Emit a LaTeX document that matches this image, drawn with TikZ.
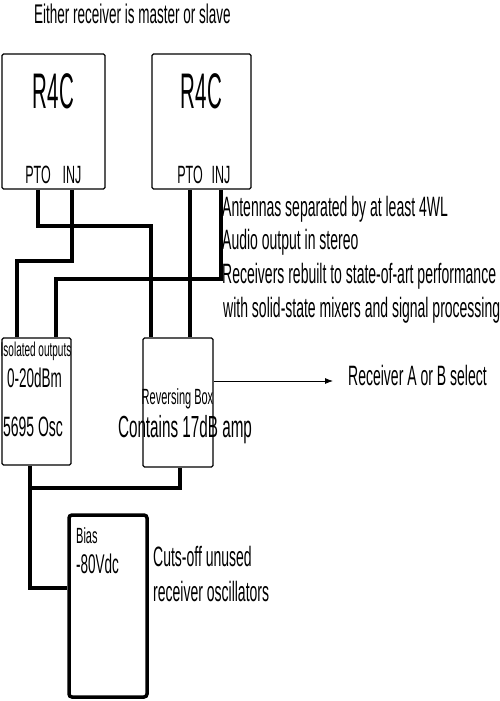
\documentclass[tikz,border=0pt]{standalone}
\usepackage{fontspec}
\setmainfont[FakeStretch=0.5]{Liberation Sans}
\newfontfamily\tallfont[FakeStretch=0.41]{Liberation Sans}
\usetikzlibrary{arrows.meta}
\newcommand{\fs}[1]{\fontsize{#1}{#1}\selectfont}
\begin{document}
\begin{tikzpicture}[x=1pt,y=-1pt,
  unit/.style={draw,line width=1.2pt,rounded corners=1.5pt,inner sep=0pt},
  wire/.style={line width=4pt},
  txt/.style={inner sep=0pt,anchor=base},
  note/.style={inner sep=0pt,anchor=base west,font=\fs{28}}]
\useasboundingbox (0,0) rectangle (500,701);
\node[txt,font=\fs{27}] (title) at (132.5,24) {Either receiver is master or slave};
% receivers
\node[unit,minimum width=103pt,minimum height=135pt] (rx1) at (53.5,121.5) {};
\node[unit,minimum width=99pt,minimum height=135pt] (rx2) at (201.5,121.5) {};
\node[txt,font=\tallfont\fs{50}] (name1) at (53.5,108) {R4C};
\node[txt,font=\tallfont\fs{50}] (name2) at (201.5,108) {R4C};
\node[txt,font=\fs{25}] (pto1) at (38,183) {PTO};
\node[txt,font=\fs{25}] (inj1) at (72,183) {INJ};
\node[txt,font=\fs{25}] (pto2) at (190,183) {PTO};
\node[txt,font=\fs{25}] (inj2) at (221,183) {INJ};
% oscillator and reversing box
\node[unit,minimum width=69pt,minimum height=127pt] (iso) at (36.5,401.5) {};
\node[txt,font=\fs{20}] (isolbl) at (36,356) {Isolated outputs};
\node[txt,font=\fs{27}] (dbm) at (34.5,387) {0-20dBm};
\node[txt,font=\fs{28}] (osc) at (33,436) {5695 Osc};
\node[unit,minimum width=70pt,minimum height=129pt] (rev) at (178,402.5) {};
\node[txt,font=\fs{22}] (revlbl) at (177.5,404) {Reversing Box};
\node[txt,font=\fs{30.5}] (amp) at (185,437) {Contains 17dB amp};
% bias supply
\node[unit,line width=3.5pt,rounded corners=3pt,minimum width=78pt,minimum height=182pt] (bias) at (108,606) {};
\node[inner sep=0pt,anchor=base west,font=\fs{22}] (biaslbl) at (76,543) {Bias};
\node[inner sep=0pt,anchor=base west,font=\fs{27}] (volt) at (76,573) {-80Vdc};
% notes
\node[note] (n1) at (222,216) {Antennas separated by at least 4WL};
\node[note] (n2) at (222,249) {Audio output in stereo};
\node[note] (n3) at (222,283) {Receivers rebuilt to state-of-art performance};
\node[note] (n4) at (223,317) {with solid-state mixers and signal processing};
\node[note] (sel) at (348,385) {Receiver A or B select};
\node[note] (cut1) at (153,566) {Cuts-off unused};
\node[note] (cut2) at (153,601) {receiver oscillators};
\coordinate (selend) at (333,381);
% wiring
\draw[wire] (pto1 |- rx1.south) -- ++(0,36) -| ([xshift=9pt]rev.north west);
\draw[wire] (inj1 |- rx1.south) -- ++(0,71) -| ([xshift=16pt]iso.north west);
\draw[wire] (pto2 |- rx2.south) -- (pto2 |- rev.north);
\draw[wire] (inj2 |- rx2.south) -- ++(0,89) -| ([xshift=55pt]iso.north west);
\draw[wire] ([xshift=29pt]iso.south west) |- ([yshift=18pt]bias.west);
\draw[wire] ([xshift=29pt]iso.south west) ++(0,22) -| ([xshift=38pt]rev.south west);
\draw[-{Latex[length=8pt,width=6pt]},line width=0.8pt] (rev.east |- selend) -- (selend);
\end{tikzpicture}
\end{document}
